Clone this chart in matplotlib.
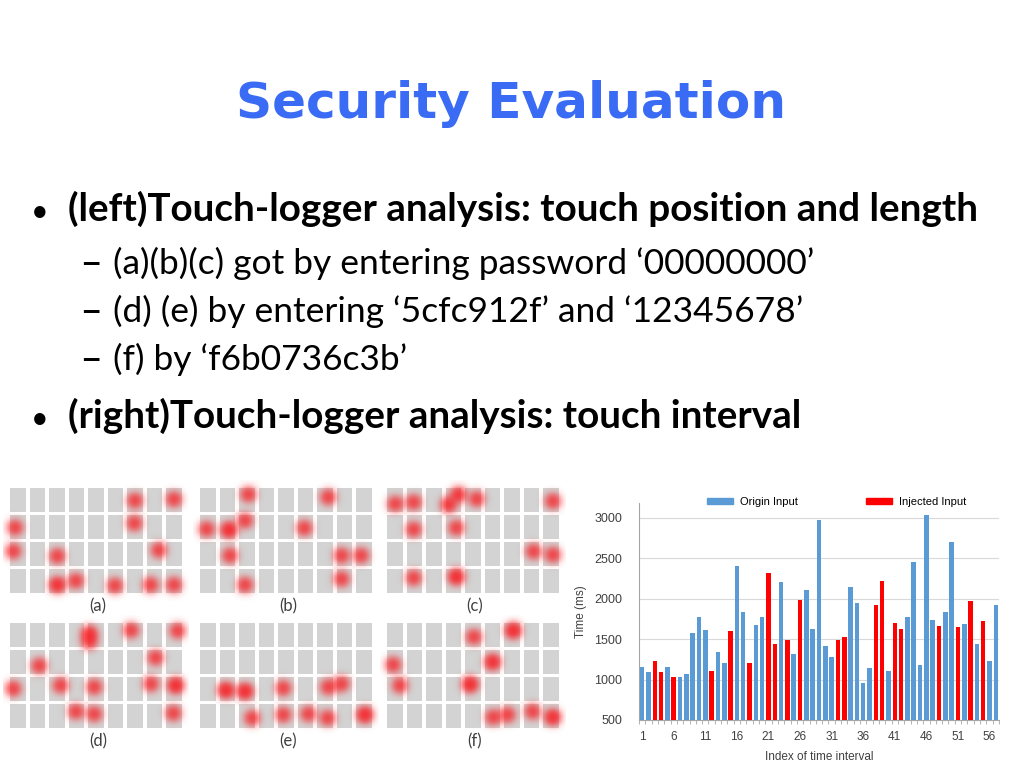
import numpy as np
import matplotlib
matplotlib.use("Agg")
import matplotlib.pyplot as plt
from matplotlib.patches import Rectangle, Patch

# ---- slide text ----
title = "Security Evaluation"
bullets = [
    "(left)Touch-logger analysis: touch position and length",
    "(right)Touch-logger analysis: touch interval",
]
sub_bullets = [
    "(a)(b)(c) got by entering password \u201800000000\u2019",
    "(d) (e) by entering \u20185cfc912f\u2019 and \u201812345678\u2019",
    "(f) by \u2018f6b0736c3b\u2019",
]

# ---- touch-logger bar chart (time between touches) ----
time_ms = [1160, 1090, 1230, 1087, 1153, 1033, 1037, 1062, 1574, 1772,
           1615, 1099, 1343, 1202, 1594, 2408, 1830, 1202, 1669, 1772,
           2317, 1433, 2202, 1483, 1318, 1987, 2111, 1623, 2970, 1409,
           1276, 1491, 1520, 2140, 1946, 954, 1144, 1921, 2222, 1111,
           1698, 1628, 1772, 2449, 1177, 3028, 1739, 1656, 1838, 2697,
           1648, 1685, 1966, 1442, 1722, 1227, 1921]
injected = [3, 4, 6, 12, 15, 18, 21, 22, 24, 26, 32, 33, 38, 39, 41, 42,
            48, 51, 53, 55]
x_tick_labels = [1, 6, 11, 16, 21, 26, 31, 36, 41, 46, 51, 56]
y_ticks = [500, 1000, 1500, 2000, 2500, 3000]

# ---- touch positions on the 9x4 key grid: (column, row, strength) ----
panel_labels = ["(a)", "(b)", "(c)", "(d)", "(e)", "(f)"]
touches_a = [(6.0, 0.0, 1), (8.0, -0.05, 1), (-0.15, 1.0, 1), (5.97, 0.84, 1),
             (-0.24, 1.88, 1), (2.02, 2.06, 1), (7.23, 1.84, 1), (2.02, 3.13, 1.4),
             (2.97, 2.98, 1), (4.97, 3.16, 1), (6.8, 3.13, 1), (8.0, 3.13, 1)]
touches_b = [(2.07, -0.23, 1), (6.17, -0.13, 1), (-0.07, 1.06, 1), (1.08, 1.09, 1.5),
             (1.9, 0.74, 1), (4.94, 1.02, 1), (1.13, 2.04, 1), (6.85, 2.04, 1),
             (7.85, 2.04, 1), (1.9, 3.13, 1), (6.85, 2.91, 1)]
touches_c = [(0.02, 0.12, 1), (0.96, 0.06, 1), (2.75, 0.15, 1.2), (3.26, -0.22, 1.2),
             (4.2, -0.06, 1), (8.1, 0.02, 1), (0.96, 1.07, 1), (3.15, 1.01, 1),
             (7.11, 1.89, 1), (8.1, 2.01, 1), (0.96, 2.87, 1), (3.15, 2.83, 1.5)]
touches_d = [(3.66, -0.08, 1.2), (3.66, 0.22, 1.0), (5.8, -0.2, 1), (8.19, -0.18, 1),
             (1.09, 1.12, 1), (7.06, 0.82, 1), (-0.24, 1.97, 1), (2.19, 1.85, 1),
             (3.91, 1.91, 1), (6.82, 1.79, 1), (8.09, 1.85, 1.5), (2.97, 2.82, 1),
             (3.91, 2.91, 1), (7.97, 2.88, 1)]
touches_e = [(0.92, 2.03, 1.5), (1.9, 2.07, 1.5), (3.86, 1.95, 1), (6.17, 1.91, 1),
             (6.85, 1.79, 1), (2.27, 3.06, 1), (3.86, 2.94, 1), (5.15, 2.91, 1),
             (6.14, 3.06, 1), (8.05, 2.94, 1.5)]
touches_f = [(4.05, 0.05, 1), (6.07, -0.19, 1.5), (-0.09, 1.08, 1), (5.01, 0.98, 1.4),
             (0.26, 1.85, 1), (3.85, 1.81, 1.5), (5.04, 3.03, 1), (5.78, 2.94, 1),
             (7.06, 2.82, 1), (8.09, 3.03, 1.4)]
all_touches = [touches_a, touches_b, touches_c, touches_d, touches_e, touches_f]

BLUE_TITLE = "#3A6BF5"
BAR_BLUE = "#5B9BD5"
BAR_RED = "#FF0000"
KEY_GRAY = "#D3D3D3"

W, H = 1024, 768
fig = plt.figure(figsize=(W / 100, H / 100), dpi=100)
fig.patch.set_facecolor("white")
renderer = fig.canvas.get_renderer()


def fit_size(s, width, **kw):
    """Font size at which s is `width` pixels wide."""
    t = fig.text(0, 0, s, fontsize=20, **kw)
    w = t.get_window_extent(renderer).width
    t.remove()
    return 20 * width / w


def put_text(x0, baseline, s, size, **kw):
    return fig.text(x0 / W, 1 - baseline / H, s, fontsize=size, va="baseline", ha="left", **kw)


def px_axes(left, top, right, bottom):
    return fig.add_axes([left / W, 1 - bottom / H, (right - left) / W, (bottom - top) / H])


# title and bullets
title_kw = dict(color=BLUE_TITLE, fontweight="bold", family="DejaVu Sans")
put_text(236, 118, title, fit_size(title, 551, **title_kw), **title_kw)

body_font = ["Lato", "DejaVu Sans"]
bold_kw = dict(fontweight="bold", family=body_font, color="black")
bold_size = np.mean([fit_size(bullets[0], 910, **bold_kw), fit_size(bullets[1], 735, **bold_kw)])
for y, s in zip((221, 428), bullets):
    put_text(68, y, s, bold_size, **bold_kw)
    fig.text(40 / W, 1 - y / H, "\u2022", fontsize=22, ha="center", va="baseline",
             family=body_font)

sub_kw = dict(family=body_font, color="black")
sub_widths = [679, 760, 274]
sub_size = np.mean([fit_size(s, w, **sub_kw) for s, w in zip(sub_bullets, sub_widths)])
for y, s in zip((274, 322, 370), sub_bullets):
    put_text(113, y, s, sub_size, **sub_kw)
    fig.text(91 / W, 1 - y / H, "\u2013", fontsize=28, ha="center", va="baseline",
             family="DejaVu Sans")

# touch grids
n_cols, n_rows = 9, 4
pitch_x, pitch_y = 19.5, 27.1
half_w, half_h = 0.41, 0.443
pad = 0.75
sig_x, sig_y = 5.2 / pitch_x, 5.2 / pitch_y
panel_origin = [(10, 488), (200, 488), (387, 488), (10, 623), (200, 623), (387, 623)]

gx = np.linspace(-pad, n_cols - 1 + pad, 260)
gy = np.linspace(-pad, n_rows - 1 + pad, 140)
GX, GY = np.meshgrid(gx, gy)

for (ox, oy), touches, lab in zip(panel_origin, all_touches, panel_labels):
    cx0 = ox + half_w * pitch_x
    cy0 = oy + half_h * pitch_y
    ax = px_axes(cx0 - pad * pitch_x, cy0 - pad * pitch_y,
                 cx0 + (n_cols - 1 + pad) * pitch_x, cy0 + (n_rows - 1 + pad) * pitch_y)
    ax.set_xlim(-pad, n_cols - 1 + pad)
    ax.set_ylim(n_rows - 1 + pad, -pad)
    ax.axis("off")
    for r in range(n_rows):
        for c in range(n_cols):
            ax.add_patch(Rectangle((c - half_w, r - half_h), 2 * half_w, 2 * half_h,
                                   facecolor=KEY_GRAY, edgecolor="none"))
    field = np.zeros_like(GX)
    for c, r, w in touches:
        field += w * np.exp(-0.5 * (((GX - c) / sig_x) ** 2 + ((GY - r) / sig_y) ** 2))
    alpha = 1 - np.exp(-1.4 * field)
    img = np.zeros(GX.shape + (4,))
    img[..., 0] = 0.97
    img[..., 1] = 0.12
    img[..., 2] = 0.14
    img[..., 3] = np.clip(alpha, 0, 0.92)
    ax.imshow(img, extent=(-pad, n_cols - 1 + pad, n_rows - 1 + pad, -pad),
              interpolation="bilinear", aspect="auto", zorder=3)
    fig.text((ox + 88) / W, 1 - (oy + 118) / H, lab, fontsize=12, ha="center", va="center",
             color="#404040", family=body_font)

# interval bar chart
ax = px_axes(639, 503, 999, 720)
idx = np.arange(1, len(time_ms) + 1)
colors = [BAR_RED if i in injected else BAR_BLUE for i in idx]
base = y_ticks[0]
ax.bar(idx, np.array(time_ms) - base, bottom=base, width=0.72, color=colors, zorder=3)
ax.set_xlim(0.57, len(time_ms) + 0.43)
ax.set_ylim(500, 3180)
ax.set_yticks(y_ticks)
ax.set_xticks(x_tick_labels)
ax.set_xticks(np.arange(0.5, len(time_ms) + 1, 1), minor=True)
ax.tick_params(axis="x", which="major", length=0, pad=8, labelsize=8.5, labelcolor="#404040")
ax.tick_params(axis="x", which="minor", length=3, color="#A6A6A6", direction="out")
ax.tick_params(axis="y", length=0, pad=12, labelsize=9, labelcolor="#404040")
for lbl in ax.get_xticklabels() + ax.get_yticklabels():
    lbl.set_family(["Liberation Sans", "DejaVu Sans"])
ax.grid(axis="y", color="#D9D9D9", linewidth=0.8, zorder=0)
for side in ("top", "right"):
    ax.spines[side].set_visible(False)
for side in ("left", "bottom"):
    ax.spines[side].set_color("#A6A6A6")
ax.set_ylabel("Time (ms)", fontsize=8.5, color="#404040", family="Liberation Sans", labelpad=5)
ax.set_xlabel("Index of time interval", fontsize=8.5, color="#404040",
              family="Liberation Sans", labelpad=6)
handles = [Patch(color=BAR_BLUE, label="Origin Input"),
           Patch(color=BAR_RED, label="Injected Input")]
ax.legend(handles=handles, ncol=2, loc="center", bbox_to_anchor=(0.549, 1.005),
          frameon=False, prop={"family": "Liberation Sans", "size": 8},
          handlelength=2.3, handleheight=0.55, handletextpad=0.6,
          columnspacing=6.2, borderpad=0, borderaxespad=0)

fig.savefig("out.png", dpi=100, facecolor="white")
